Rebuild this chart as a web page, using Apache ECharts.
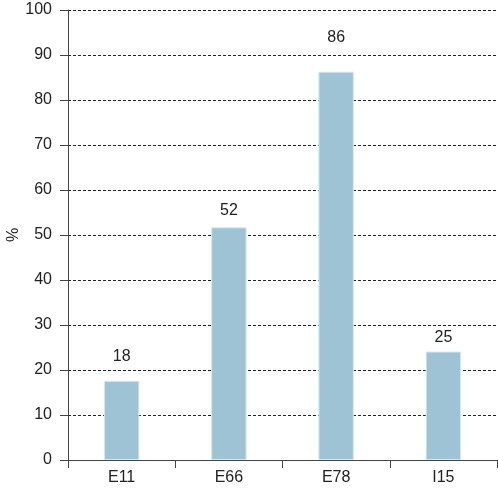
<!DOCTYPE html>
<html>
<head>
<meta charset="utf-8">
<script src="https://cdn.jsdelivr.net/npm/echarts@6/dist/echarts.min.js"></script>
<style>html,body{margin:0;padding:0;background:#fff}#c{width:498px;height:492px}</style>
</head>
<body>
<div id="c"></div>
<script>
const categories = ['E11', 'E66', 'E78', 'I15'];
const values = [17.6, 51.7, 86.3, 24.1];
const labels = ['18', '52', '86', '25'];
const yTicks = { min: 0, max: 100, interval: 10 };
// label gap above each bar (style only)
const labelGaps = [16, 9, 26, 6];

const chart = echarts.init(document.getElementById('c'), null, { renderer: 'canvas' });
const font = 'Liberation Sans, Arial, sans-serif';
chart.setOption({
  animation: false,
  grid: { left: 68, right: 1, top: 10, bottom: 32, containLabel: false, outerBoundsMode: 'none' },
  xAxis: {
    type: 'category',
    data: categories,
    axisLine: { lineStyle: { color: '#444', width: 1 } },
    axisTick: { show: true, length: 8, alignWithLabel: false, lineStyle: { color: '#444' } },
    axisLabel: { color: '#222', fontSize: 16, fontFamily: font, margin: 10 },
    splitLine: { show: false }
  },
  yAxis: {
    type: 'value',
    min: yTicks.min, max: yTicks.max, interval: yTicks.interval,
    name: '%',
    nameLocation: 'middle',
    nameGap: 46,
    nameMoveOverlap: false,
    nameRotate: 90,
    nameTextStyle: { color: '#222', fontSize: 16, fontFamily: font },
    axisLine: { show: true, lineStyle: { color: '#444', width: 1 } },
    axisTick: { show: true, length: 8, lineStyle: { color: '#444' } },
    axisLabel: { color: '#222', fontSize: 16, fontFamily: font, margin: 16 },
    splitLine: { show: true, lineStyle: { color: '#222', type: [3, 2], width: 1 } }
  },
  series: [{
    type: 'bar',
    data: values.map((v, i) => ({ value: v, label: { distance: labelGaps[i] } })),
    barWidth: '33%',
    itemStyle: { color: '#9dc3d5', borderColor: '#d6e7ee', borderWidth: 1 },
    label: {
      show: true,
      position: 'top',
      color: '#222',
      fontSize: 16,
      fontFamily: font,
      formatter: p => labels[p.dataIndex]
    }
  }]
});
</script>
</body>
</html>
